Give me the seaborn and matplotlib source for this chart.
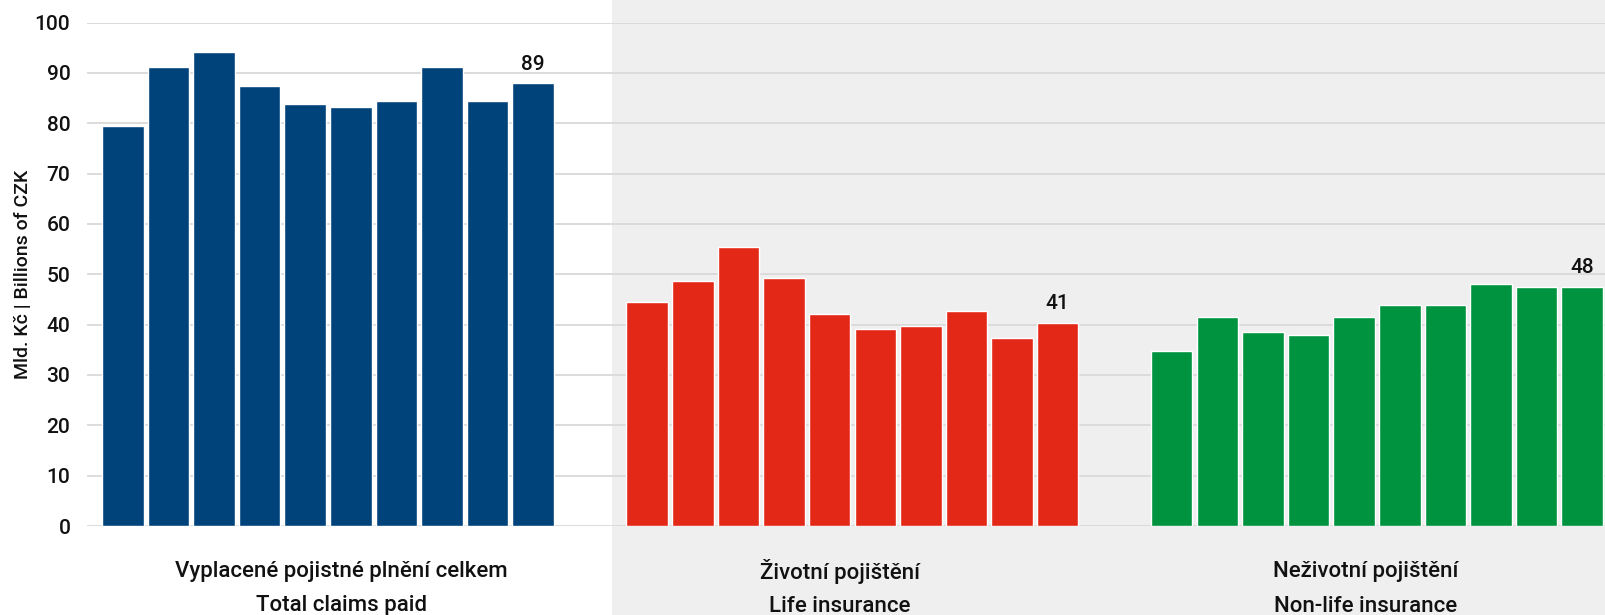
import numpy as np
import pandas as pd
import matplotlib
matplotlib.use("Agg")
import matplotlib.pyplot as plt
from matplotlib.patches import Rectangle
import seaborn as sns

# ---- data ----
groups_cz = ["Vyplacené pojistné plnění celkem", "Životní pojištění", "Neživotní pojištění"]
groups_en = ["Total claims paid", "Life insurance", "Non-life insurance"]
total_claims = [79.5, 91.1, 94.1, 87.4, 83.8, 83.2, 84.4, 91.1, 84.4, 87.9]
life_claims = [44.5, 48.7, 55.5, 49.3, 42.1, 39.1, 39.7, 42.7, 37.3, 40.3]
nonlife_claims = [34.8, 41.5, 38.5, 37.9, 41.5, 43.9, 43.9, 48.1, 47.5, 47.5]
last_labels = ["89", "41", "48"]
y_ticks = [0, 10, 20, 30, 40, 50, 60, 70, 80, 90, 100]
y_label = "Mld. Kč | Billions of CZK"

colors = ["#00427a", "#e42817", "#00933f"]

# ---- layout ----
GROUP_STEP = 11.5  # slots between group starts
LABEL_X_PX = [341, 840, 1366]  # group caption centres (pixels)
series = [total_claims, life_claims, nonlife_claims]
rows = []
for g, vals in enumerate(series):
    for i, v in enumerate(vals):
        rows.append({"pos": g * GROUP_STEP + i, "value": v, "group": groups_en[g]})
df = pd.DataFrame(rows)

sns.set_theme(style="white")
plt.rcParams["font.family"] = ["Roboto", "DejaVu Sans"]

W, H = 1605, 615
fig = plt.figure(figsize=(W / 100, H / 100), dpi=100)
fig.patch.set_facecolor("white")

# gray background panel (figure level, behind the axes)
bg = Rectangle((612 / W, 0), 1 - 612 / W, 1, transform=fig.transFigure,
               facecolor="#efefef", edgecolor="none", zorder=-10)
fig.patches.append(bg)

ax = fig.add_axes([87 / W, 1 - 526 / H, 1 - 87 / W, (526 - 22.5) / H])
ax.set_zorder(1)
ax.set_facecolor("none")
ax.patch.set_alpha(0)

sns.barplot(data=df, x="pos", y="value", hue="group", hue_order=groups_en,
            palette=colors, native_scale=True, width=0.91, dodge=False,
            saturation=1, legend=False, ax=ax, zorder=3)

ax.set_ylim(0, 100)
ax.set_xlim(-0.784, 32.5)
ax.set_yticks(y_ticks)
ax.set_yticklabels([str(t) for t in y_ticks], fontsize=15, color="#111111", fontweight="medium")
ax.tick_params(axis="y", length=0, pad=12)
ax.set_xticks([])
ax.set_xlabel("")
ax.set_ylabel(y_label, fontsize=14, color="#111111", fontweight="medium")
ax.yaxis.set_label_coords(-0.036, 0.5)
for s in ax.spines.values():
    s.set_visible(False)
ax.grid(axis="y", color="#d9d9d9", linewidth=1.3, zorder=0)
ax.set_axisbelow(True)

# value labels on last bars
for g, vals in enumerate(series):
    x = g * GROUP_STEP + len(vals) - 1
    ax.annotate(last_labels[g], (x, vals[-1]), xytext=(0, 7), textcoords="offset points",
                ha="center", va="bottom", fontsize=15, fontweight="medium", color="#111111")

# group captions
for g in range(len(series)):
    fig.text(LABEL_X_PX[g] / W, 1 - 572 / H, groups_cz[g], ha="center", va="center",
             fontsize=16, fontweight="medium", color="#111111")
    fig.text(LABEL_X_PX[g] / W, 1 - 606 / H, groups_en[g], ha="center", va="center",
             fontsize=16, fontweight="medium", color="#111111")

fig.savefig("out.png", dpi=100, facecolor=fig.get_facecolor())
